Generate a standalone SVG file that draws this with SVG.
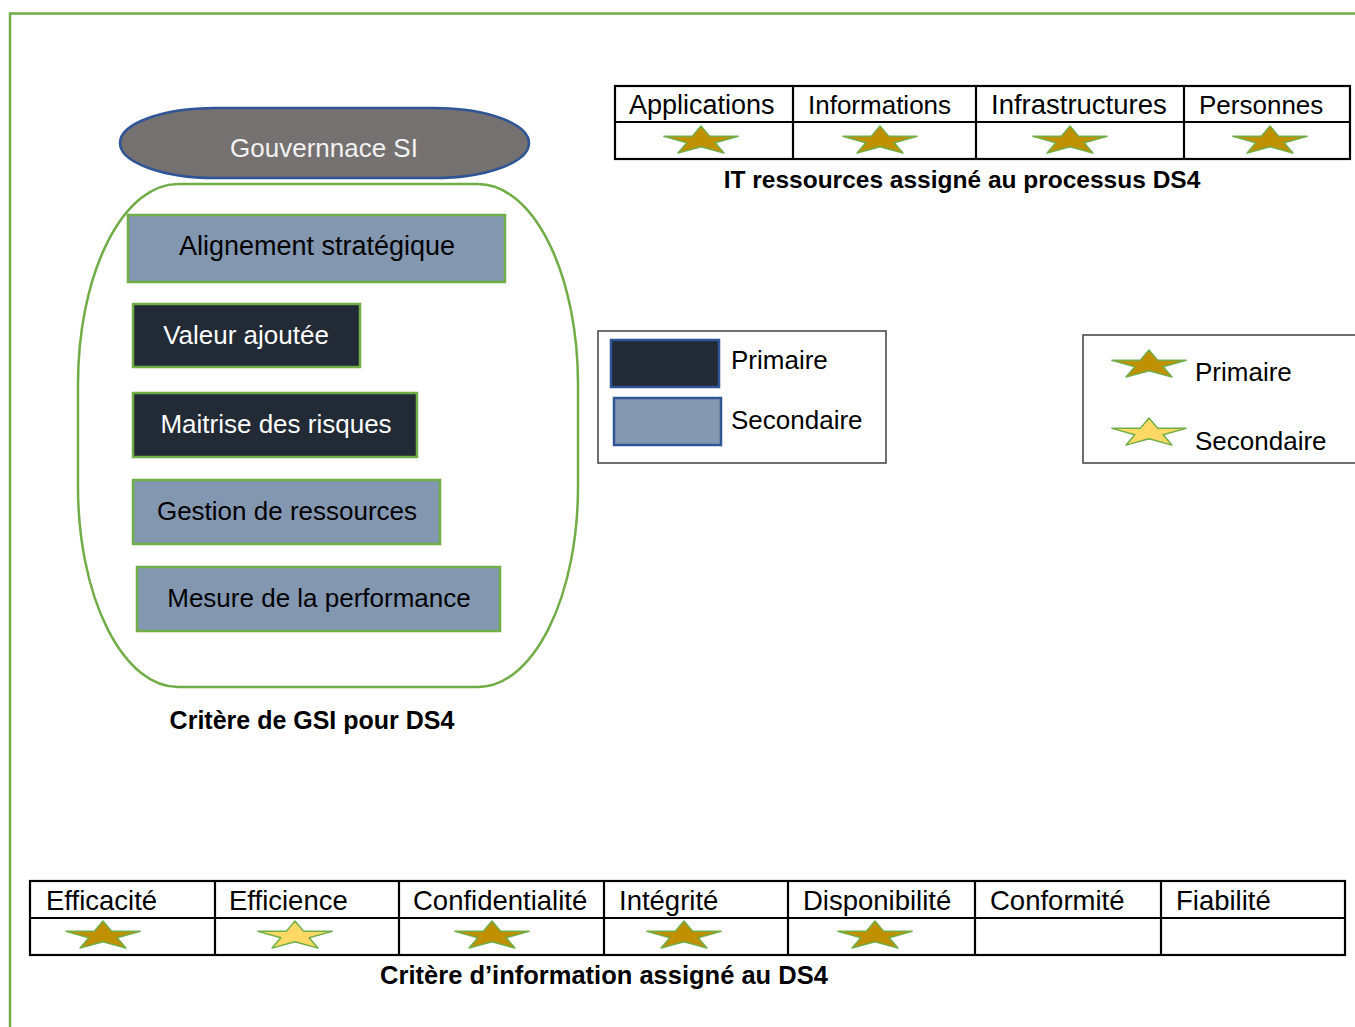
<svg xmlns="http://www.w3.org/2000/svg" xmlns:xlink="http://www.w3.org/1999/xlink" width="1355" height="1027" viewBox="0 0 1355 1027">
<style>
text{font-family:"Liberation Sans",Arial,sans-serif;font-size:26px;fill:#000}
.w{fill:#fff}
.cap{font-weight:bold;font-size:24.5px}
.bt{font-size:27.5px}
.mid{text-anchor:middle}
.grid{fill:none;stroke:#000;stroke-width:2.2}
.box{stroke:#70AD47;stroke-width:2.5}
.dark{fill:#222A35}
.light{fill:#8497B0}
.sp{fill:#BF9000;stroke:#70AD47;stroke-width:1.5;stroke-linejoin:round}
.ss{fill:#FFD966;stroke:#70AD47;stroke-width:1.5;stroke-linejoin:round}
.leg{fill:#fff;stroke:#404040;stroke-width:1.5}
</style>
<defs>
<path id="star" d="M0,-15 L8.76,-4.64 L37.1,-4.64 L14.16,1.77 L22.9,12.1 L0,5.73 L-22.9,12.1 L-14.16,1.77 L-37.1,-4.64 L-8.76,-4.64 Z"/>
</defs>
<rect width="1355" height="1027" fill="#fff"/>
<g id="frame"><path d="M10,1027 V13.5 H1355" fill="none" stroke="#70AD47" stroke-width="2.5"/></g>

<g id="it-resources">
<rect class="grid" x="615" y="86" width="735" height="73"/>
<path class="grid" d="M615,122 H1350 M793,86 V159 M976,86 V159 M1184,86 V159"/>
<text x="629" y="114" style="font-size:27px">Applications</text>
<text x="808" y="114">Informations</text>
<text x="991" y="114" style="font-size:27.5px">Infrastructures</text>
<text x="1199" y="114">Personnes</text>
<use xlink:href="#star" class="sp" x="701" y="141"/>
<use xlink:href="#star" class="sp" x="880" y="141"/>
<use xlink:href="#star" class="sp" x="1070" y="141"/>
<use xlink:href="#star" class="sp" x="1270" y="141"/>
<text class="cap mid" x="962" y="188">IT ressources assigné au processus DS4</text>
</g>

<g id="gouvernance">
<rect x="120" y="108" width="409" height="70" rx="95" ry="35" fill="#767171" stroke="#2F5597" stroke-width="2.5"/>
<text class="w mid" x="324" y="157" style="fill:#F2F2F2">Gouvernnace SI</text>
</g>

<g id="gsi-container">
<rect x="78" y="184" width="500" height="503" rx="100" ry="200" fill="none" stroke="#70AD47" stroke-width="2.5"/>
</g>

<g id="alignement">
<rect class="box light" x="128" y="215" width="377" height="67"/>
<text class="mid" x="317" y="255" style="font-size:27px">Alignement stratégique</text>
</g>
<g id="valeur">
<rect class="box dark" x="133" y="304" width="227" height="63"/>
<text class="w mid" x="246" y="344">Valeur ajoutée</text>
</g>
<g id="risques">
<rect class="box dark" x="133" y="393" width="284" height="64"/>
<text class="w mid" x="276" y="433">Maitrise des risques</text>
</g>
<g id="ressources">
<rect class="box light" x="133" y="480" width="307" height="64"/>
<text class="mid" x="287" y="520">Gestion de ressources</text>
</g>
<g id="performance">
<rect class="box light" x="137" y="567" width="363" height="64"/>
<text class="mid" x="319" y="607">Mesure de la performance</text>
</g>
<g id="gsi-caption"><text class="cap mid" x="312" y="729" style="font-size:25px">Critère de GSI pour DS4</text></g>

<g id="legend-colors">
<rect class="leg" x="598" y="331" width="288" height="132"/>
<rect x="611" y="340" width="108" height="47" class="dark" stroke="#2F5597" stroke-width="2.5"/>
<rect x="614" y="398" width="107" height="47" class="light" stroke="#2F5597" stroke-width="2.5"/>
<text x="731" y="369">Primaire</text>
<text x="731" y="429">Secondaire</text>
</g>

<g id="legend-stars">
<rect class="leg" x="1083" y="335" width="290" height="128"/>
<use xlink:href="#star" class="sp" x="1149" y="365"/>
<use xlink:href="#star" class="ss" x="1149" y="433"/>
<text x="1195" y="381">Primaire</text>
<text x="1195" y="450">Secondaire</text>
</g>

<g id="info-criteria">
<rect class="grid" x="30" y="881" width="1315" height="74"/>
<path class="grid" d="M30,918 H1345 M215,881 V955 M399,881 V955 M604,881 V955 M788,881 V955 M975,881 V955 M1161,881 V955"/>
<text class="bt" x="46" y="910">Efficacité</text>
<text class="bt" x="229" y="910">Efficience</text>
<text class="bt" x="413" y="910">Confidentialité</text>
<text class="bt" x="619" y="910">Intégrité</text>
<text class="bt" x="803" y="910">Disponibilité</text>
<text class="bt" x="990" y="910">Conformité</text>
<text class="bt" x="1176" y="910">Fiabilité</text>
<use xlink:href="#star" class="sp" x="103" y="936"/>
<use xlink:href="#star" class="ss" x="295" y="936"/>
<use xlink:href="#star" class="sp" x="492" y="936"/>
<use xlink:href="#star" class="sp" x="684" y="936"/>
<use xlink:href="#star" class="sp" x="875" y="936"/>
<text class="cap mid" x="604" y="984" style="font-size:25.5px">Critère d’information assigné au DS4</text>
</g>
<g id="connectors"></g>
</svg>
